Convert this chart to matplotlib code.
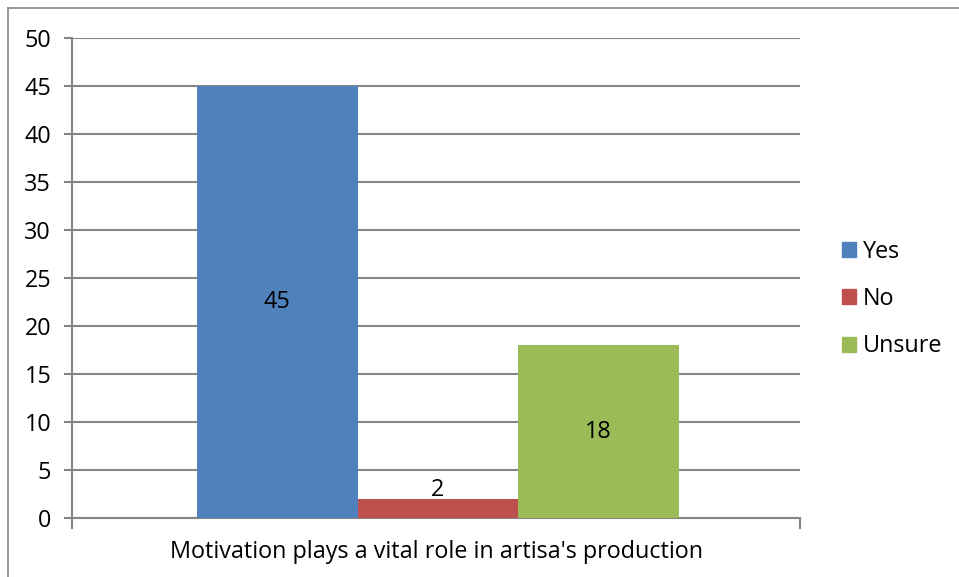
import matplotlib
matplotlib.use("Agg")
import matplotlib.pyplot as plt
from matplotlib.lines import Line2D
from matplotlib.patches import Patch

categories = ["Yes", "No", "Unsure"]
values = [45, 2, 18]
colors = ["#4F81BD", "#C0504D", "#9BBB59"]
xlabel = "Motivation plays a vital role in artisa's production"
yticks = list(range(0, 51, 5))

plt.rcParams['font.family'] = ['Open Sans', 'DejaVu Sans']
FS = 16.8
W, H = 959, 577
fig = plt.figure(figsize=(W/100, H/100), dpi=100)
ax = fig.add_axes([72/W, 1-518/H, (800-72)/W, (518-38)/H])

width = 0.2207
center = 0.5027
grid_c = "#868686"
for i, (c, v, col) in enumerate(zip(categories, values, colors)):
    x = center + (i-1)*width
    ax.bar(x, v, width=width, color=col, zorder=3, label=c)
    if v < 5:
        ax.text(x, v - 0.3, str(v), ha='center', va='bottom', fontsize=FS, zorder=4)
    else:
        ax.text(x, v/2, str(v), ha='center', va='center', fontsize=FS, zorder=4)

ax.set_xlim(0, 1)
ax.set_ylim(0, 50)
ax.set_yticks(yticks)
ax.set_yticklabels([str(t) for t in yticks], fontsize=FS)
ax.set_xticks([0, 1])
ax.set_xticklabels([])
ax.tick_params(axis='y', length=6, width=1.5, color=grid_c, pad=9)
ax.tick_params(axis='x', length=8, width=1.5, color=grid_c)
ax.grid(axis='y', color=grid_c, linewidth=1.5, zorder=0)
for s in ['top', 'right']:
    ax.spines[s].set_visible(False)
for s in ['left', 'bottom']:
    ax.spines[s].set_color(grid_c)
    ax.spines[s].set_linewidth(1.5)
ax.set_xlabel(xlabel, fontsize=FS, labelpad=4)

handles = [Patch(color=col, label=c) for c, col in zip(categories, colors)]
fig.legend(handles=handles, loc='center left', bbox_to_anchor=(821/W, 1-299/H),
           frameon=False, fontsize=FS, handlelength=0.6, handleheight=0.6,
           handletextpad=0.3, labelspacing=1.0)

# outer border
fig.add_artist(Line2D([8/W, 8/W], [0, 1-8/H], color="#868686", linewidth=1.2, transform=fig.transFigure))
fig.add_artist(Line2D([8/W, 1], [1-8/H, 1-8/H], color="#868686", linewidth=1.2, transform=fig.transFigure))

fig.savefig("out.png", dpi=100)
